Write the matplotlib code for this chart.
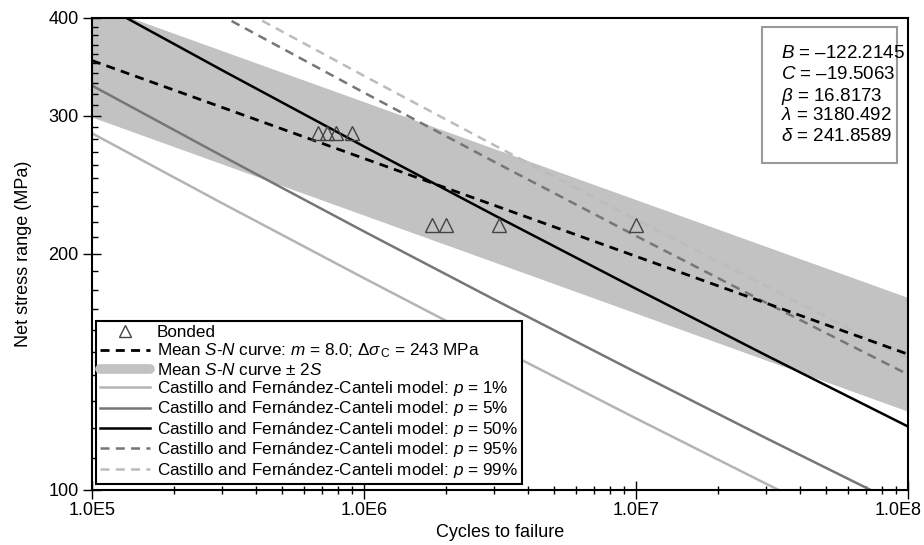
import math
import matplotlib
matplotlib.use("Agg")
import matplotlib.pyplot as plt
from matplotlib.lines import Line2D
from matplotlib.patches import Rectangle
from matplotlib.transforms import ScaledTranslation
from matplotlib.ticker import FixedLocator, FuncFormatter, NullFormatter

plt.rcParams['font.family'] = ['Liberation Sans', 'DejaVu Sans']
plt.rcParams['mathtext.fontset'] = 'custom'
plt.rcParams['mathtext.rm'] = 'Liberation Sans'
plt.rcParams['mathtext.it'] = 'Liberation Sans:italic'
plt.rcParams['mathtext.bf'] = 'Liberation Sans:bold'
plt.rcParams['lines.scale_dashes'] = False

# ---- data ----
bonded_N = [6.8e5, 7.3e5, 7.9e5, 9.0e5, 1.78e6, 2.0e6, 3.13e6, 1.0e7]
bonded_S = [285, 285, 285, 285, 218, 218, 218, 218]

mean_N = [1e5, 1e8]
mean_S = [353, 149]
band_upper = [417, 176]
band_lower = [299, 126]

curve_N = [1e5, 3e5, 1e6, 3e6, 1e7, 3e7, 1e8]
p1_S = [285.1, 232.3, 186.3, 152.8, 123.4, 101.9, 82.9]
p5_S = [328.0, 266.9, 213.7, 175.1, 141.3, 116.5, 94.7]
p50_S = [422.8, 343.3, 274.3, 224.3, 180.6, 148.6, 120.5]
p95_S = [496.5, 402.7, 321.3, 262.4, 210.9, 173.4, 140.4]
p99_S = [521.9, 423.1, 337.5, 275.5, 221.4, 182.0, 147.2]

x_major = [1e5, 1e6, 1e7, 1e8]
y_major = [100, 200, 300, 400]
y_minor = [v for v in range(110, 400, 10) if v not in (200, 300)]

params_lines = ["$B$ = \u2013122.2145", "$C$ = \u201319.5063", "$\\beta$ = 16.8173",
                "$\\lambda$ = 3180.492", "$\\delta$ = 241.8589"]

# ---- figure ----
fig = plt.figure(figsize=(9.24, 5.45), dpi=100)
ax = fig.add_axes([92/924, 1-490/545, 816/924, 472/545])
ax.set_xscale('log')
ax.set_yscale('log')

band_col = '#c2c2c2'
ax.fill_between(mean_N, band_lower, band_upper, color=band_col, lw=0, zorder=1)
ax.plot(curve_N, p1_S, color='#b4b4b4', lw=1.8, zorder=2)
ax.plot(curve_N, p5_S, color='#767676', lw=1.8, zorder=2)
ax.plot(curve_N, p95_S, color='#767676', lw=1.8, dashes=(6.5, 4.5), zorder=2)
ax.plot(curve_N, p99_S, color='#bcbcbc', lw=1.8, dashes=(6.5, 4.5), zorder=2)
ax.plot(mean_N, mean_S, color='black', lw=2.0, dashes=(6.5, 4.5), zorder=3)
ax.plot(curve_N, p50_S, color='black', lw=1.8, zorder=3)
ax.plot(bonded_N, bonded_S, ls='none', marker='^', ms=10, mfc='none',
        mec='#444444', mew=1.0, zorder=4)

ax.set_xlim(1e5, 1e8)
ax.set_ylim(100, 400)

ax.xaxis.set_major_locator(FixedLocator(x_major))
ax.xaxis.set_major_formatter(FuncFormatter(lambda v, p: '1.0E%d' % round(math.log10(v))))
ax.xaxis.set_minor_formatter(NullFormatter())
ax.yaxis.set_major_locator(FixedLocator(y_major))
ax.yaxis.set_major_formatter(FuncFormatter(lambda v, p: '%d' % v))
ax.yaxis.set_minor_locator(FixedLocator(y_minor))
ax.yaxis.set_minor_formatter(NullFormatter())

ax.tick_params(axis='x', which='major', direction='inout', length=13, width=1.0,
               labelsize=13, pad=2)
ax.tick_params(axis='x', which='minor', direction='inout', length=6, width=1.0)
ax.tick_params(axis='y', which='major', direction='inout', length=13, width=1.0,
               labelsize=13, pad=3)
ax.tick_params(axis='y', which='minor', direction='in', length=4, width=1.0)
for s in ax.spines.values():
    s.set_linewidth(1.5)
    s.set_color('black')

# shift last x tick label left so it stays inside the figure
fig.canvas.draw()
xt = ax.xaxis.get_majorticklabels()
xt[-1].set_transform(xt[-1].get_transform() + ScaledTranslation(-10/100, 0, fig.dpi_scale_trans))

ax.set_xlabel('Cycles to failure', fontsize=13, labelpad=4)
ax.set_ylabel('Net stress range (MPa)', fontsize=13, labelpad=12)

# legend
handles = [
    Line2D([], [], ls='none', marker='^', ms=8, mfc='none', mec='#444444', mew=1.0),
    Line2D([], [], color='black', lw=2.0, dashes=(6.5, 4.5)),
    Line2D([], [], color=band_col, lw=7, solid_capstyle='round'),
    Line2D([], [], color='#b4b4b4', lw=1.8),
    Line2D([], [], color='#767676', lw=1.8),
    Line2D([], [], color='black', lw=1.8),
    Line2D([], [], color='#767676', lw=1.8, dashes=(6.5, 4.5)),
    Line2D([], [], color='#bcbcbc', lw=1.8, dashes=(6.5, 4.5)),
]
labels = [
    'Bonded',
    'Mean $S$-$N$ curve: $m$ = 8.0; $\\Delta\\sigma_{\\,\\mathrm{C}}$ = 243 MPa',
    'Mean $S$-$N$ curve \u00b1 2$S$',
    'Castillo and Fern\u00e1ndez-Canteli model: $p$ = 1%',
    'Castillo and Fern\u00e1ndez-Canteli model: $p$ = 5%',
    'Castillo and Fern\u00e1ndez-Canteli model: $p$ = 50%',
    'Castillo and Fern\u00e1ndez-Canteli model: $p$ = 95%',
    'Castillo and Fern\u00e1ndez-Canteli model: $p$ = 99%',
]
leg = ax.legend(handles, labels, loc='lower left', bbox_to_anchor=(0.005, 0.013),
                borderaxespad=0, fontsize=12.3, frameon=True, fancybox=False,
                framealpha=1, edgecolor='black', handlelength=2.9, handletextpad=0.4,
                labelspacing=0.08, borderpad=0.25)
leg.get_frame().set_linewidth(1.5)
leg.set_zorder(10)

# parameter box
x0, x1 = (762-92)/816, (897-92)/816
y0, y1 = (490-163)/472, (490-27)/472
ax.add_patch(Rectangle((x0, y0), x1-x0, y1-y0, transform=ax.transAxes,
                       fc='white', ec='#9a9a9a', lw=1.5, zorder=9))
for i, line in enumerate(params_lines):
    ycen = 52 + i * 20.6
    ax.text((781-92)/816, (490-ycen)/472, line, transform=ax.transAxes,
            ha='left', va='center_baseline', fontsize=13.5, zorder=10)

fig.savefig('out.png', dpi=100)
